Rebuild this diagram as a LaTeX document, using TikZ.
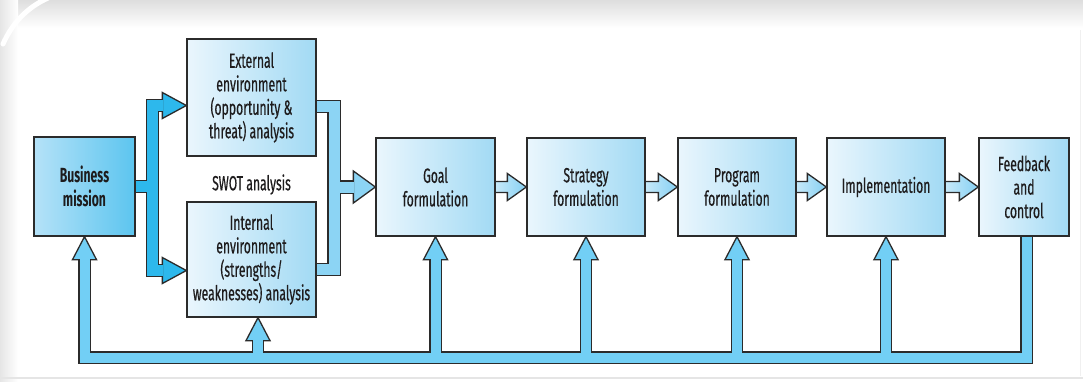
\documentclass[tikz,border=0pt]{standalone}
\usepackage{fontspec}
\setmainfont{Fira Sans}[FakeStretch=0.595, UprightFeatures={FakeBold=0.5}]
\usetikzlibrary{calc}
\pgfdeclarelayer{back}
\pgfdeclarelayer{bg}
\pgfsetlayers{back,bg,main}
\definecolor{outl}{HTML}{2B2B2B}
\definecolor{loopc}{HTML}{72CFF5}
\definecolor{forka}{HTML}{2DB8EC}
\definecolor{forkb}{HTML}{8CD4F4}
\definecolor{chainl}{HTML}{C6E9F9}
\definecolor{chainr}{HTML}{86D0F3}
\definecolor{boxl}{HTML}{EAF6FD}
\definecolor{boxr}{HTML}{A2DAF4}
\definecolor{bizl}{HTML}{B5E2F8}
\definecolor{bizr}{HTML}{5CC5EF}
\definecolor{txt}{HTML}{1E1C1D}
\newcommand\hfat[2]{\draw[chain] ($(#1.east |- #2.west)+(0,-5.5)$) -- ($(#2.west)+(-19,-5.5)$) -- ($(#2.west)+(-19,-13.5)$) -- (#2.west) -- ($(#2.west)+(-19,13.5)$) -- ($(#2.west)+(-19,5.5)$) -- ($(#1.east |- #2.west)+(0,5.5)$);}
\begin{document}
\begin{tikzpicture}[x=1pt,y=-1pt,
  box/.style={draw=outl, line width=1.3pt, left color=boxl, right color=boxr,
    text=txt, align=center, inner sep=0pt,
    font=\fontsize{20.5}{23.5}\selectfont},
  bizbox/.style={box, left color=bizl, right color=bizr, font=\bfseries\fontsize{20.5}{23.5}\selectfont},
  chain/.style={draw=outl, line width=1.3pt, left color=chainl, right color=chainr, line join=miter},
  headsty/.style={draw=outl, line width=1.3pt, line join=miter},
  lbl/.style={text=txt, font=\fontsize{20.5}{23.5}\selectfont, inner sep=0pt}]
\useasboundingbox (0,0) rectangle (1083,381);
% page frame
\begin{pgfonlayer}{back}
\fill[white] (0,0) rectangle (1083,381);
\shade[top color=black!13, bottom color=white] (0,0) rectangle (1083,28);
\shade[left color=black!10, right color=white] (0,0) rectangle (18,381);
\draw[black!10, line width=1.5pt] (0,378) -- (1083,378);
\draw[black!6, line width=1pt] (1080,30) -- (1080,376);
\draw[white, line width=5pt, line cap=round] (3,44) .. controls (12,24) and (26,8) .. (48,-2);
\end{pgfonlayer}
% boxes
\node[bizbox, minimum width=101pt, minimum height=99pt] (biz) at (84.5,186.5) {Business\\mission};
\node[box, minimum width=129pt, minimum height=117pt] (ext) at (251.5,97.5) {External\\environment\\(opportunity \&\\threat) analysis};
\node[box, minimum width=129pt, minimum height=115pt] (int) at (251.5,259.5) {Internal\\environment\\(strengths/\\weaknesses) analysis};
\node[lbl] (swot) at (251.5,184.5) {SWOT analysis};
\node[box, minimum width=119pt, minimum height=98pt] (goal) at (435.5,187) {Goal\\formulation};
\node[box, minimum width=118pt, minimum height=98pt] (strat) at (586,187) {Strategy\\formulation};
\node[box, minimum width=118pt, minimum height=98pt] (prog) at (737,187) {Program\\formulation};
\node[box, minimum width=118pt, minimum height=98pt] (impl) at (886,187) {Implementation};
\node[box, minimum width=90pt, minimum height=98pt] (fb) at (1024,187) {Feedback\\and\\control};
% coordinates
\coordinate (bar) at (0,357.5);
\coordinate (tb) at (biz.south);
\coordinate (ti) at ($(int.south)+(6.5,0)$);
\coordinate (tg) at (goal.south);
\coordinate (ts) at (strat.south);
\coordinate (tp) at (prog.south);
\coordinate (tm) at (impl.south);
\coordinate (tf) at ($(fb.south)+(2.5,0)$);
\coordinate (fa1) at ($(ext.west)+(0,8)$);
\coordinate (fa2) at ($(int.west)+(0,11)$);
\coordinate (f1m) at ($(biz.east)+(17,0)$);
\coordinate (f2a) at ($(ext.east)+(0,9)$);
\coordinate (f2b) at ($(int.east)+(0,10)$);
\coordinate (f2m) at ($(f2a)+(17.5,0)$);
\begin{pgfonlayer}{bg}
% ---- feedback loop
\draw[line width=12.6pt, outl, line join=miter] (tf) -- (tf |- bar) -- (tb |- bar) -- ($(tb)+(0,23)$);
\foreach \t in {ti,tg,ts,tp,tm} \draw[line width=12.6pt, outl] (\t |- bar) -- ($(\t)+(0,23)$);
\foreach \t in {tb,ti,tg,ts,tp,tm} \filldraw[headsty, fill=loopc] ($(\t)+(-12,23)$) -- (\t) -- ($(\t)+(12,23)$) -- cycle;
\draw[line width=10pt, loopc, line join=miter] ($(tf)+(0,0.7)$) -- (tf |- bar) -- (tb |- bar) -- ($(tb)+(0,22)$);
\foreach \t in {ti,tg,ts,tp,tm} \draw[line width=10pt, loopc] (\t |- bar) -- ($(\t)+(0,22)$);
% ---- fork from business mission
\draw[line width=13.1pt, outl, line join=miter] ($(fa1)+(-24,0)$) -- (fa1 -| f1m) -- (fa2 -| f1m) -- ($(fa2)+(-24,0)$);
\draw[line width=13.1pt, outl] (biz.east) -- (f1m);
\foreach \t in {fa1,fa2} \filldraw[headsty, fill=forka] ($(\t)+(-24,-13)$) -- (\t) -- ($(\t)+(-24,13)$) -- cycle;
\draw[line width=10.5pt, forka, line join=miter] ($(fa1)+(-23,0)$) -- (fa1 -| f1m) -- (fa2 -| f1m) -- ($(fa2)+(-23,0)$);
\draw[line width=10.5pt, forka] ($(biz.east)+(0.65,0)$) -- (f1m);
% ---- fork into goal formulation
\draw[line width=13.6pt, outl, line join=miter] (f2a) -- (f2m) -- (f2b -| f2m) -- (f2b);
\draw[line width=13.6pt, outl] (goal.west -| f2m) -- ($(goal.west)+(-22,0)$);
\filldraw[headsty, fill=forkb] ($(goal.west)+(-22,-16)$) -- (goal.west) -- ($(goal.west)+(-22,16)$) -- cycle;
\draw[line width=11pt, forkb, line join=miter] ($(f2a)+(0.65,0)$) -- (f2m) -- (f2b -| f2m) -- ($(f2b)+(0.65,0)$);
\draw[line width=11pt, forkb] (goal.west -| f2m) -- ($(goal.west)+(-21,0)$);
% ---- chain arrows
\hfat{goal}{strat}
\hfat{strat}{prog}
\hfat{prog}{impl}
\hfat{impl}{fb}
\end{pgfonlayer}
\end{tikzpicture}
\end{document}
